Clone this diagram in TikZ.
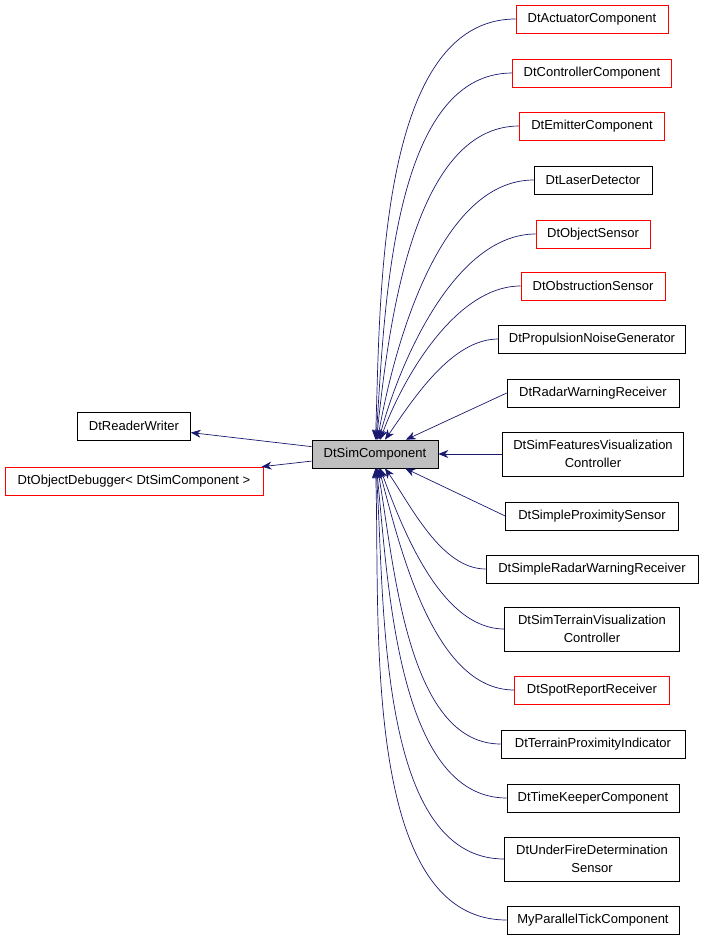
\documentclass[tikz,border=0pt]{standalone}
\usepackage{fontspec}
\setmainfont{Liberation Sans}
\usetikzlibrary{arrows.meta,positioning}
\definecolor{edgeblue}{RGB}{25,25,112}
\definecolor{simgray}{RGB}{191,191,191}

\begin{document}
\begin{tikzpicture}[x=1pt,y=-1pt,>={Stealth[length=10pt,width=8pt]},semithick]
 \tikzstyle{class node}=[rectangle,draw=black,fill=white,inner sep=0,minimum height=28pt,font=\fontsize{13}{18}\selectfont,align=center]
 \tikzstyle{red node}=[class node,draw=red]
 \tikzstyle{tall node}=[class node,minimum height=44pt]
 \tikzset{
 	sim node/.style={class node,fill=simgray},
 	dep/.style={draw=edgeblue,->,line width=0.7pt}
 }
 \useasboundingbox (0,0) rectangle (704,941);

       \node[sim node,minimum width=126pt] (sim) at (375,454) {DtSimComponent};
       \node[class node,minimum width=113pt] (rw) at (134,426) {DtReaderWriter};
       \node[red node,minimum width=258pt] (dbg) at (134,481) {DtObjectDebugger< DtSimComponent >};

       \node[red node,minimum width=152pt] (act) at (592,19) {DtActuatorComponent};
       \node[red node,minimum width=159pt] (ctl) at (592,73) {DtControllerComponent};
       \node[red node,minimum width=145pt] (emi) at (592,126) {DtEmitterComponent};
       \node[class node,minimum width=118pt] (las) at (593,180) {DtLaserDetector};
       \node[red node,minimum width=114pt] (obj) at (593,234) {DtObjectSensor};
       \node[red node,minimum width=144pt] (obs) at (593,286) {DtObstructionSensor};
       \node[class node,minimum width=187pt] (pro) at (592,339) {DtPropulsionNoiseGenerator};
       \node[class node,minimum width=172pt] (rad) at (593,393) {DtRadarWarningReceiver};
       \node[tall node,minimum width=181pt] (fea) at (593,454) {DtSimFeaturesVisualization\\Controller};
       \node[class node,minimum width=173pt] (spx) at (592,516) {DtSimpleProximitySensor};
       \node[class node,minimum width=212pt] (srw) at (592,569) {DtSimpleRadarWarningReceiver};
       \node[tall node,minimum width=175pt] (ter) at (592,629) {DtSimTerrainVisualization\\Controller};
       \node[red node,minimum width=155pt] (spo) at (592,690) {DtSpotReportReceiver};
       \node[class node,minimum width=184pt] (tpi) at (593,744) {DtTerrainProximityIndicator};
       \node[class node,minimum width=172pt] (tim) at (593,798) {DtTimeKeeperComponent};
       \node[tall node,minimum width=175pt] (und) at (592,859) {DtUnderFireDetermination\\Sensor};
       \node[class node,minimum width=172pt] (par) at (593,920) {MyParallelTickComponent};

     \path (sim) edge[dep] (rw);
     \path (sim) edge[dep] (dbg);

     \path (act.west) edge[dep,out=180,in=88,looseness=0.8] (sim);
     \path (ctl.west) edge[dep,out=180,in=86,looseness=0.8] (sim);
     \path (emi.west) edge[dep,out=180,in=84,looseness=0.8] (sim);
     \path (las.west) edge[dep,out=180,in=80,looseness=0.8] (sim);
     \path (obj.west) edge[dep,out=180,in=75,looseness=0.8] (sim);
     \path (obs.west) edge[dep,out=180,in=70,looseness=0.8] (sim);
     \path (pro.west) edge[dep,out=180,in=55,looseness=0.8] (sim);
     \path (rad.west) edge[dep] (sim);
     \path (fea.west) edge[dep] (sim);
     \path (spx.west) edge[dep] (sim);
     \path (srw.west) edge[dep,out=180,in=-55,looseness=0.8] (sim);
     \path (ter.west) edge[dep,out=180,in=-70,looseness=0.8] (sim);
     \path (spo.west) edge[dep,out=180,in=-75,looseness=0.8] (sim);
     \path (tpi.west) edge[dep,out=180,in=-80,looseness=0.8] (sim);
     \path (tim.west) edge[dep,out=180,in=-84,looseness=0.8] (sim);
     \path (und.west) edge[dep,out=180,in=-86,looseness=0.8] (sim);
     \path (par.west) edge[dep,out=180,in=-88,looseness=0.8] (sim);
 \end{tikzpicture}
\end{document}
